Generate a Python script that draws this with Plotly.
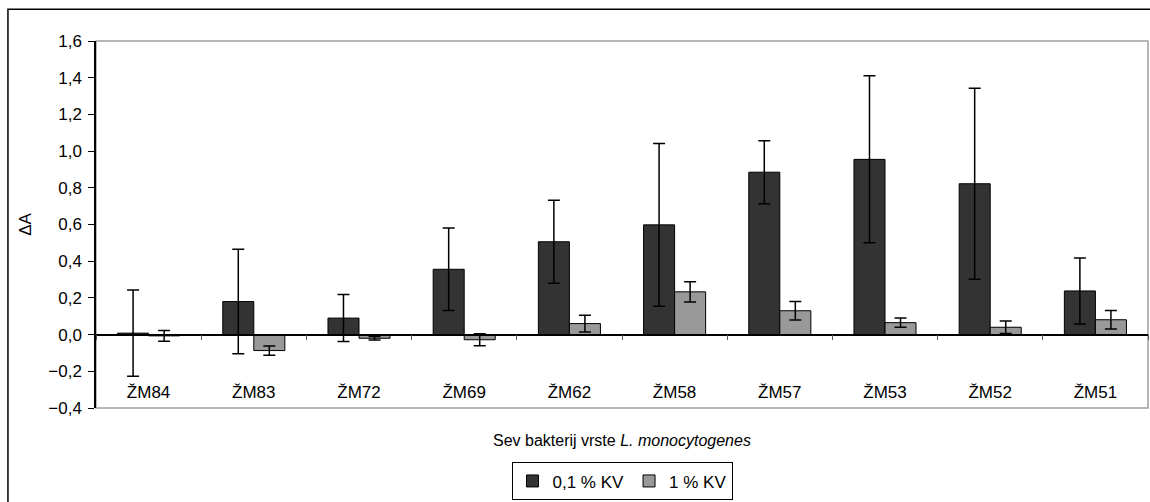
import plotly.graph_objects as go
import numpy as np

categories = ["ŽM84", "ŽM83", "ŽM72", "ŽM69", "ŽM62", "ŽM58", "ŽM57", "ŽM53", "ŽM52", "ŽM51"]
series_names = ["0,1 % KV", "1 % KV"]
vals_01 = [0.008, 0.18, 0.09, 0.356, 0.506, 0.598, 0.885, 0.955, 0.822, 0.238]
err_01 = [0.235, 0.285, 0.128, 0.225, 0.226, 0.443, 0.172, 0.455, 0.52, 0.18]
vals_1 = [-0.007, -0.087, -0.02, -0.028, 0.06, 0.233, 0.13, 0.065, 0.04, 0.081]
err_1 = [0.029, 0.025, 0.01, 0.033, 0.046, 0.055, 0.05, 0.025, 0.034, 0.05]
y_range = [-0.4, 1.6]
y_ticks = [-0.4, -0.2, 0.0, 0.2, 0.4, 0.6, 0.8, 1.0, 1.2, 1.4, 1.6]
x_title = "Sev bakterij vrste <i>L. monocytogenes</i>"

FONT = "Liberation Sans, Arial, sans-serif"
FS = 17
n = len(categories)

fig = go.Figure()
fig.add_trace(go.Bar(
    x=categories, y=vals_01, name=series_names[0],
    marker=dict(color="#333333", line=dict(color="black", width=1)),
    error_y=dict(type="data", array=err_01, color="black", thickness=1.5, width=6),
))
fig.add_trace(go.Bar(
    x=categories, y=vals_1, name=series_names[1],
    marker=dict(color="#999999", line=dict(color="black", width=1)),
    error_y=dict(type="data", array=err_1, color="black", thickness=1.5, width=6),
))
# helper trace for the zero-line axis
fig.add_trace(go.Scatter(x=[-0.5, n - 0.5], y=[0, 0], xaxis="x2", mode="lines",
                         line=dict(width=0, color="rgba(0,0,0,0)"),
                         showlegend=False, hoverinfo="skip"))

zero_pos = (0 - y_range[0]) / (y_range[1] - y_range[0])

fig.update_layout(
    width=1150, height=502,
    margin=dict(l=96, r=2, t=41, b=92),
    paper_bgcolor="white", plot_bgcolor="white",
    separators=", ",
    font=dict(family=FONT, size=FS, color="black"),
    barmode="group", bargap=0.41, bargroupgap=0,
    showlegend=True,
    legend=dict(orientation="h", x=0.5, xanchor="center", y=-0.2, yanchor="middle",
                bordercolor="black", borderwidth=1, bgcolor="white",
                font=dict(family=FONT, size=FS), itemwidth=30, tracegroupgap=0),
    xaxis=dict(type="category", range=[-0.5, n - 0.5], showline=False, showgrid=False,
               anchor="free", position=0.075,
               ticks="", tickfont=dict(family=FONT, size=FS)),
    xaxis2=dict(overlaying="x", anchor="free", position=zero_pos, type="linear",
                range=[-0.5, n - 0.5], tickvals=list(np.arange(n + 1) - 0.5),
                ticks="outside", ticklen=5, tickcolor="#555555", tickwidth=1,
                showticklabels=False, showline=True, linecolor="black", linewidth=1.5,
                showgrid=False, zeroline=False),
    yaxis=dict(range=y_range, tickvals=y_ticks, tickformat=".1f", showgrid=False,
               zeroline=False, showline=True, linecolor="black", linewidth=1.5,
               ticks="outside", ticklen=6, tickcolor="black", ticklabelstandoff=3,
               tickfont=dict(family=FONT, size=FS),
               title=dict(text="ΔA", font=dict(family=FONT, size=FS), standoff=12)),
    annotations=[
        dict(text=x_title, xref="paper", yref="paper", x=0.5, y=-0.0894,
             xanchor="center", yanchor="middle", showarrow=False,
             font=dict(family=FONT, size=16)),
    ],
    shapes=[
        dict(type="rect", xref="x domain", yref="y domain", x0=0, x1=1, y0=0, y1=1,
             line=dict(color="#a0a0a0", width=1.5), layer="below"),
        dict(type="rect", xref="paper", yref="paper", x0=-0.0837, x1=1.01, y0=-0.4, y1=1.0867,
             line=dict(color="black", width=1.5), fillcolor="rgba(0,0,0,0)", layer="below"),
    ],
)

fig.write_html("out.html", config={"displayModeBar": False},
               post_script="document.body.style.margin='0';document.body.style.overflow='hidden';")
